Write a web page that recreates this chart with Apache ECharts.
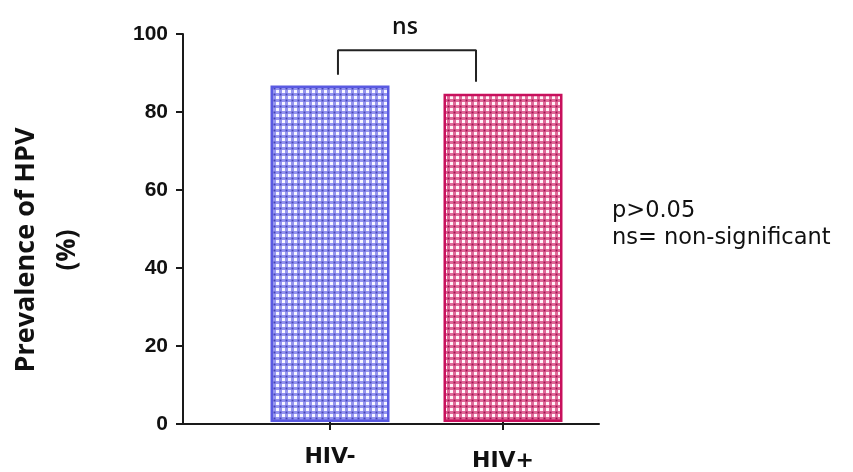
<!DOCTYPE html>
<html>
<head>
<meta charset="utf-8">
<script src="https://cdn.jsdelivr.net/npm/echarts@6/dist/echarts.min.js"></script>
<style>html,body{margin:0;padding:0;background:#fff}#c{width:853px;height:472px}</style>
</head>
<body>
<div id="c"></div>
<script>
const categories = ['HIV-', 'HIV+'];
const prevalence = [86.7, 84.6];
const yMin = 0, yMax = 100, yStep = 20;
const bracketX = [0.046, 0.046, 0.844, 0.844];
const bracketY = [89.5, 95.8, 95.8, 87.7];
const bracketLabel = 'ns';
const notes = ['p>0.05', 'ns= non-significant'];
const yTitle = ['Prevalence of HPV', '(%)'];

function pattern(mid, dark, light) {
  const c = document.createElement('canvas');
  c.width = 6; c.height = 6;
  const g = c.getContext('2d');
  g.fillStyle = mid; g.fillRect(0, 0, 6, 6);
  g.fillStyle = light; g.fillRect(0, 0, 3, 3);
  g.fillStyle = dark; g.fillRect(3.5, 3.5, 2, 2);
  return { image: c, repeat: 'repeat' };
}
const fills = [
  { fill: pattern('#9494f0', '#4444b8', '#f6f6ff'), border: '#5a5ae2' },
  { fill: pattern('#e06898', '#a01050', '#fff2f7'), border: '#c8105c' }
];

const chart = echarts.init(document.getElementById('c'));
const axisColor = '#1a1a1a';
chart.setOption({
  animation: false,
  grid: [
    { left: 183, right: 254, top: 34, bottom: 48 },
    { left: 243.5, right: 263.5, top: 34, bottom: 48 }
  ],
  xAxis: [
    { type: 'value', gridIndex: 0, min: 0, max: 1,
      axisLine: { show: true, lineStyle: { color: axisColor, width: 2 } },
      axisTick: { show: false }, axisLabel: { show: false }, splitLine: { show: false } },
    { type: 'category', gridIndex: 1, data: [categories[0], { value: categories[1], textStyle: { padding: [4, 0, 0, 0] } }],
      axisLine: { show: false },
      axisTick: { show: true, alignWithLabel: true, length: 8, lineStyle: { color: axisColor, width: 2 } },
      axisLabel: { margin: 24, fontFamily: 'DejaVu Sans', fontWeight: 'bold', fontSize: 22, color: '#111' } },
    { type: 'value', gridIndex: 1, min: -0.5, max: 1.5, show: false }
  ],
  yAxis: [
    { type: 'value', gridIndex: 0, min: yMin, max: yMax, interval: yStep,
      axisLine: { show: true, lineStyle: { color: axisColor, width: 2 } },
      axisTick: { show: true, length: 7, lineStyle: { color: axisColor, width: 2 } },
      axisLabel: { margin: 15, fontFamily: 'Liberation Sans', fontWeight: 'bold', fontSize: 21, color: '#111' },
      splitLine: { show: false } },
    { type: 'value', gridIndex: 1, min: yMin, max: yMax, show: false }
  ],
  series: [
    { type: 'bar', xAxisIndex: 1, yAxisIndex: 1, barWidth: 119,
      data: prevalence.map((v, i) => ({ value: v, itemStyle: { color: fills[i].fill, borderColor: fills[i].border, borderWidth: 2.5 } })) },
    { type: 'line', xAxisIndex: 2, yAxisIndex: 1, symbol: 'none',
      data: bracketX.map((x, i) => [x, bracketY[i]]),
      lineStyle: { color: '#222', width: 2 } }
  ],
  graphic: [
    { type: 'text', x: 405, y: 27, style: { text: bracketLabel, fontFamily: 'Open Sans', fontWeight: 600, fontSize: 23, fill: '#111', align: 'center', verticalAlign: 'middle' } },
    { type: 'text', x: 26, y: 250, rotation: Math.PI / 2, style: { text: yTitle[0], fontFamily: 'Open Sans', fontWeight: 'bold', fontSize: 27, fill: '#111', align: 'center', verticalAlign: 'middle' } },
    { type: 'text', x: 68, y: 250, rotation: Math.PI / 2, style: { text: yTitle[1], fontFamily: 'Open Sans', fontWeight: 'bold', fontSize: 26, fill: '#111', align: 'center', verticalAlign: 'middle' } },
    { type: 'text', x: 612, y: 211, style: { text: notes[0], fontFamily: 'DejaVu Sans', fontSize: 22.5, fill: '#111', align: 'left', verticalAlign: 'middle' } },
    { type: 'text', x: 612, y: 238, style: { text: notes[1], fontFamily: 'DejaVu Sans', fontSize: 22.5, fill: '#111', align: 'left', verticalAlign: 'middle' } }
  ]
});
</script>
</body>
</html>
